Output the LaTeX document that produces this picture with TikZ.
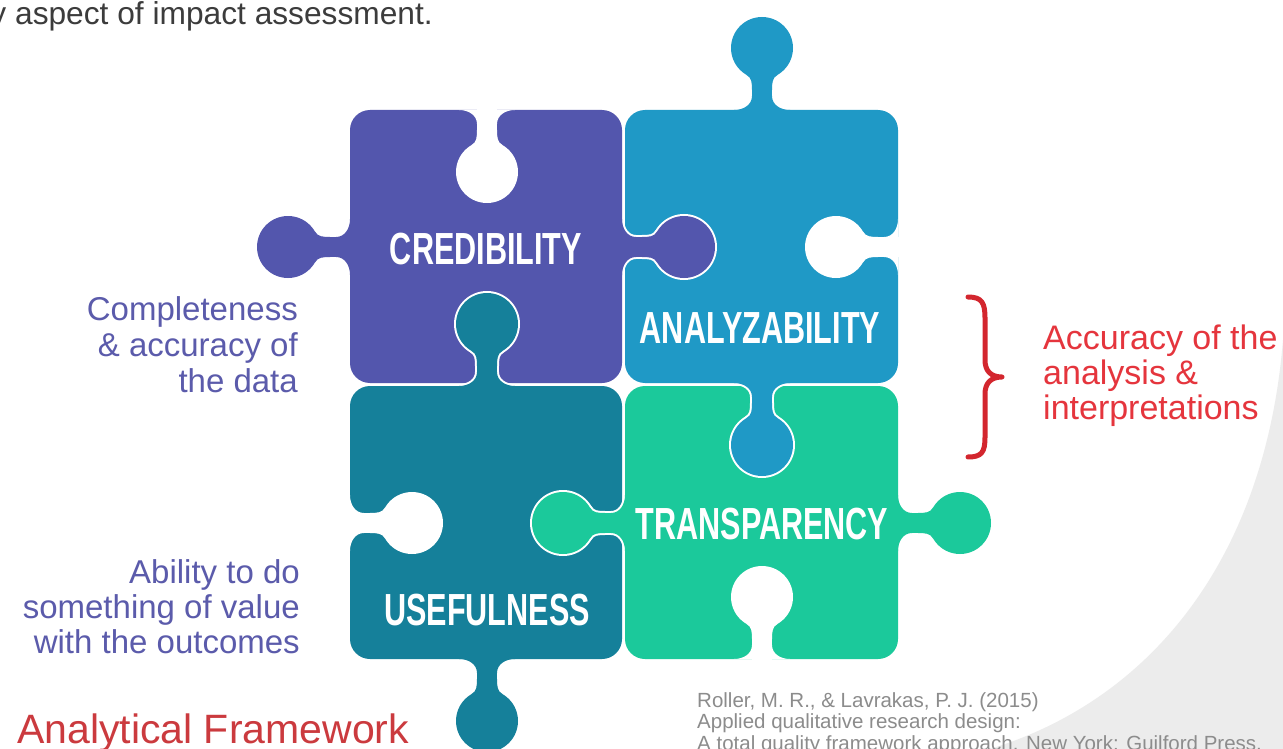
\documentclass[tikz,border=0pt]{standalone}
\usepackage{fontspec}
\setmainfont{Liberation Sans}
\newfontfamily\puzzlefont{Liberation Sans}[FakeStretch=0.68]

\definecolor{credcol}{HTML}{5356AD}
\definecolor{analcol}{HTML}{1F99C6}
\definecolor{usecol}{HTML}{15809A}
\definecolor{transcol}{HTML}{1BC99B}
\definecolor{notecol}{HTML}{5B5BAB}
\definecolor{redtext}{HTML}{E5353D}
\definecolor{bracecol}{HTML}{D3262E}
\definecolor{titlered}{HTML}{CB3A3E}
\definecolor{citegray}{HTML}{8C8C8C}
\definecolor{topgray}{HTML}{3C3C3C}
\definecolor{swoosh}{HTML}{ECECEC}

% one puzzle tab: edge midpoint at the origin, tab pointing along +y
\newcommand\tabshape{%
  \path[tabpart] (0,62) circle[radius=31];
  \path[tabpart] (-10,-2) rectangle (10,45);
  \path[tabpart] (10,0) -- (28,0) .. controls (18,0) and (10,5.5) .. (10,14) -- cycle;
  \path[tabpart] (-10,0) -- (-28,0) .. controls (-18,0) and (-10,5.5) .. (-10,14) -- cycle;
  \path[tabpart] (10,20) .. controls (10,27) and (10.3,32.15) .. (15.5,35.15) -- (0,62) -- (0,20) -- cycle;
  \path[tabpart] (-10,20) .. controls (-10,27) and (-10.3,32.15) .. (-15.5,35.15) -- (0,62) -- (0,20) -- cycle;
}
% coloured tab with a thin white seam where it sits in the neighbour piece
\newcommand\puzzletab[4]{%
  \begin{scope}[shift={(#1,#2)}, rotate=#3]
    \begin{scope}
      \clip (-70,1.5) rectangle (70,110);
      \begin{scope}[tabpart/.style={fill=white, draw=white, line width=4}]
        \tabshape
      \end{scope}
    \end{scope}
    \begin{scope}[tabpart/.style={fill=#4}]
      \tabshape
    \end{scope}
  \end{scope}}
% empty socket cut into a piece
\newcommand\puzzlesocket[3]{%
  \begin{scope}[shift={(#1,#2)}, rotate=#3, tabpart/.style={fill=white}]
    \tabshape
  \end{scope}}

\begin{document}
\begin{tikzpicture}[x=1pt, y=-1pt,
  tabpart/.style={},
  piece/.style={rounded corners=20},
  piecelabel/.style={text=white, inner sep=0pt,
    font=\puzzlefont\bfseries\fontsize{45}{45}\selectfont},
  noteline/.style={text=notecol, inner sep=0pt, anchor=base east,
    font=\fontsize{33}{36}\selectfont},
  redline/.style={text=redtext, inner sep=0pt, anchor=base west,
    font=\fontsize{34}{36}\selectfont},
  citeline/.style={text=citegray, inner sep=0pt, anchor=base west,
    font=\fontsize{20.5}{22}\selectfont}]

\useasboundingbox (0,0) rectangle (1283,749);
\fill[white] (0,0) rectangle (1283,749);

% light grey swoosh, lower right
\fill[swoosh] (1283,340) .. controls (1265,560) and (1150,700) .. (990,749) -- (1283,749) -- cycle;

% heading fragment
\node[text=topgray, inner sep=0pt, anchor=base west,
  font=\fontsize{31.7}{36}\selectfont] (heading) at (-9.7,25) {y aspect of impact assessment.};

% the four pieces
\fill[piece, credcol]  (350,110) rectangle (622,383);
\fill[piece, analcol]  (625,110) rectangle (898,383);
\fill[piece, usecol]   (350,386) rectangle (622,659);
\fill[piece, transcol] (625,386) rectangle (898,659);

% open sockets on the outer edges
\puzzlesocket{487}{110}{0}
\puzzlesocket{898}{247}{-90}
\puzzlesocket{350}{523}{90}
\puzzlesocket{762}{659}{180}

% tabs
\puzzletab{350}{247}{-90}{credcol}
\puzzletab{622}{247}{90}{credcol}
\puzzletab{762}{110}{180}{analcol}
\puzzletab{762}{383}{0}{analcol}
\puzzletab{487}{386}{180}{usecol}
\puzzletab{487}{659}{0}{usecol}
\puzzletab{625}{523}{-90}{transcol}
\puzzletab{898}{523}{90}{transcol}

% piece labels
\node[piecelabel] (credibility)   at (486,249) {CREDIBILITY};
\node[piecelabel] (analyzability) at (760,328) {ANALYZABILITY};
\node[piecelabel] (transparency)  at (762,524) {TRANSPARENCY};
\node[piecelabel] (usefulness)    at (487,610) {USEFULNESS};

% notes on the left
\node[noteline] (c1) at (298,320) {Completeness};
\node[noteline] (c2) at (298,356) {\& accuracy of};
\node[noteline] (c3) at (298,392) {the data};
\node[noteline] (u1) at (300,583) {Ability to do};
\node[noteline] (u2) at (300,618) {something of value};
\node[noteline] (u3) at (300,653) {with the outcomes};

% brace and note on the right
\draw[bracecol, line width=5, line cap=round, line join=round]
  (968,297) .. controls (982,297) and (985,303) .. (985,318) -- (985,360)
  .. controls (985,370) and (990,377) .. (1002,377)
  .. controls (990,377) and (985,384) .. (985,394) -- (985,437)
  .. controls (985,452) and (982,457) .. (968,457);
\node[redline] (a1) at (1043,349) {Accuracy of the};
\node[redline] (a2) at (1043,384) {analysis \&};
\node[redline] (a3) at (1043,419) {interpretations};

% title
\node[text=titlered, inner sep=0pt, anchor=base west,
  font=\fontsize{41}{48}\selectfont] (title) at (17,743) {Analytical Framework};

% reference
\node[citeline] (r1) at (697,707) {Roller, M. R., \& Lavrakas, P. J. (2015)};
\node[citeline] (r2) at (697,728) {Applied qualitative research design:};
\node[citeline] (r3) at (697,750) {A total quality framework approach. New York: Guilford Press.};

\end{tikzpicture}
\end{document}
